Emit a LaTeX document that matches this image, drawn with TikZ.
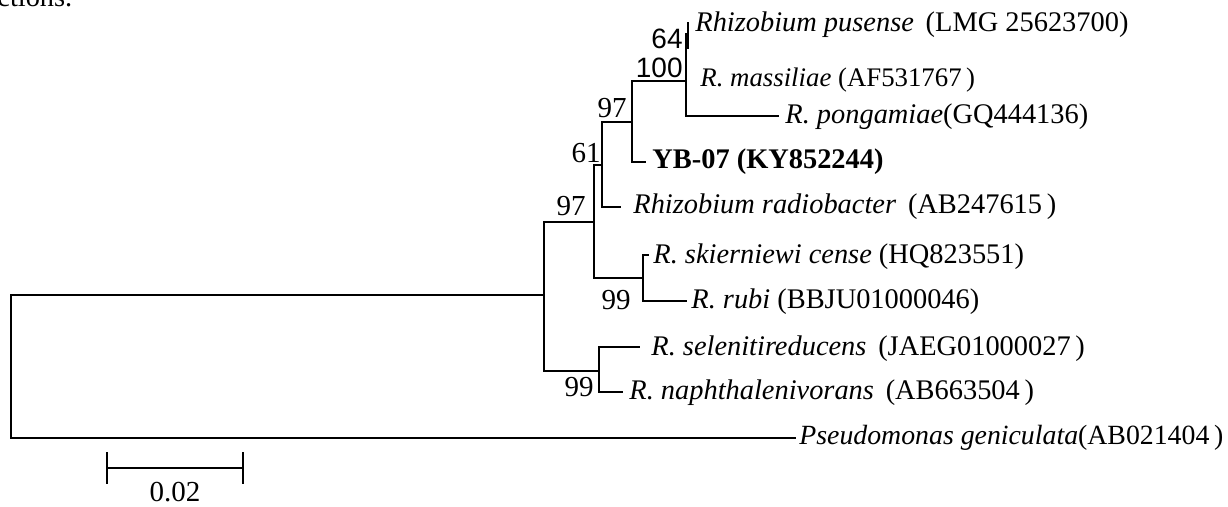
\documentclass[tikz,border=0pt]{standalone}
\usepackage{fontspec}
\setmainfont{Liberation Serif}
\newfontfamily\arialfont{Liberation Sans}
\begin{document}
\begin{tikzpicture}[x=0.5pt,y=-0.5pt,
  br/.style={line width=1pt,line cap=rect},
  taxon/.style={anchor=west,inner sep=0pt,font=\fontsize{14.2}{17}\selectfont},
  boot/.style={inner sep=0pt,font=\fontsize{14.5}{17}\selectfont},
  bootsf/.style={inner sep=0pt,font=\arialfont\fontsize{14}{16}\selectfont}]
\useasboundingbox (0,0) rectangle (1228,507);
% cut-off text at top
\node[taxon,anchor=base west] (cut) at (-3,7) {ctions.};
% internal nodes
\coordinate (root) at (11,366);
\coordinate (A) at (544,295);
\coordinate (B) at (594,222);
\coordinate (C) at (602,165);
\coordinate (D) at (632,122);
\coordinate (E) at (686,81);
\coordinate (F) at (688,34);
\coordinate (G) at (643,278);
\coordinate (H) at (599,371);
% tips
\coordinate (tpus) at (688,23);
\coordinate (tmas) at (688,48);
\coordinate (tpon) at (778,116);
\coordinate (tyb) at (645,162);
\coordinate (trad) at (620,207);
\coordinate (tski) at (648,255);
\coordinate (trub) at (686,301);
\coordinate (tsel) at (639,347);
\coordinate (tnap) at (622,392);
\coordinate (tpse) at (795,438);
% branches
\draw[br] (root) |- (A);
\draw[br] (root) |- (tpse);
\draw[br] (A) |- (B);
\draw[br] (A) |- (H);
\draw[br] (B) |- (C);
\draw[br] (B) |- (G);
\draw[br] (C) |- (D);
\draw[br] (C) |- (trad);
\draw[br] (D) |- (E);
\draw[br] (D) |- (tyb);
\draw[br] (E) |- (F);
\draw[br] (E) |- (tpon);
\draw[br,line width=0.7pt] (tpus) -- (tmas);
\draw[br] (G) |- (tski);
\draw[br] (G) |- (trub);
\draw[br] (H) |- (tsel);
\draw[br] (H) |- (tnap);
% taxa
\node[taxon] (pus) at (695,25) {\textit{Rhizobium pusense}\, (LMG 25623700)};
\node[taxon,font=\fontsize{13.4}{16}\selectfont] (mas) at (700,80) {\textit{R. massiliae} (AF531767\,)};
\node[taxon] (pon) at (785,117) {\textit{R. pongamiae}(GQ444136)};
\node[taxon] (yb) at (652,162) {\textbf{YB-07 (KY852244)}};
\node[taxon] (rad) at (633,207) {\textit{Rhizobium radiobacter}\, (AB247615\,)};
\node[taxon] (ski) at (653,257) {\textit{R. skierniewi cense} (HQ823551)};
\node[taxon] (rub) at (691,302) {\textit{R. rubi} (BBJU01000046)};
\node[taxon] (sel) at (651,349) {\textit{R. selenitireducens}\, (JAEG01000027\,)};
\node[taxon] (nap) at (629,393) {\textit{R. naphthalenivorans}\, (AB663504\,)};
\node[taxon,font=\fontsize{13.9}{16}\selectfont] (pse) at (799,438) {\textit{Pseudomonas geniculata}(AB021404\,)};
% bootstrap values
\node[bootsf,anchor=east] (b64) at (683,39) {64};
\node[bootsf,anchor=east] (b100) at (683,68) {100};
\node[boot] (b97a) at (612,108) {97};
\node[boot] (b61) at (586,153) {61};
\node[boot] (b97b) at (571,206) {97};
\node[boot] (b99a) at (616,300) {99};
\node[boot] (b99b) at (579,387) {99};
% scale bar
\coordinate (s1) at (107,468);
\coordinate (s2) at (243,468);
\draw[br,line cap=butt] (s1) -- (s2);
\draw[br,line cap=butt] ([yshift=-8]s1) -- ([yshift=8]s1);
\draw[br,line cap=butt] ([yshift=-8]s2) -- ([yshift=8]s2);
\node[boot] (sc) at (175,492) {0.02};
\end{tikzpicture}
\end{document}
